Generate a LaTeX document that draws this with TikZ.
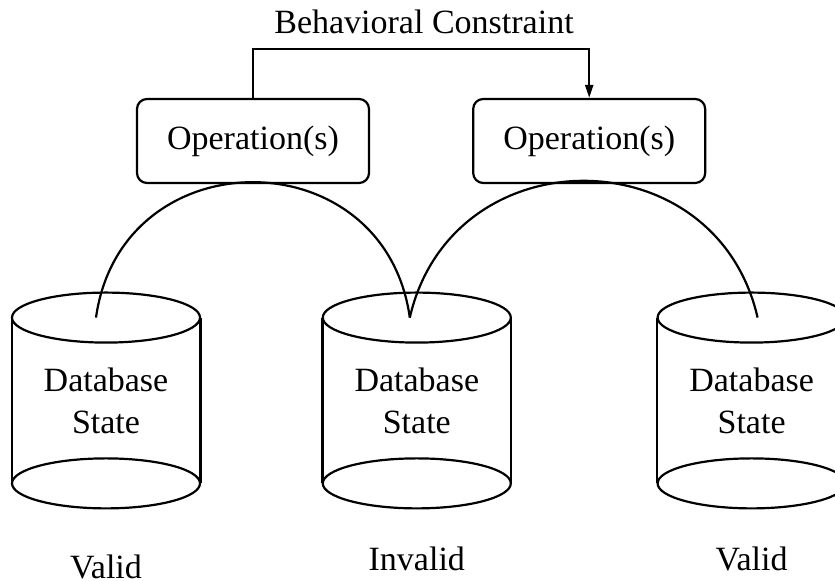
\documentclass[tikz,border=0pt]{standalone}
\usepackage{fontspec}
\setmainfont{Liberation Serif}
\usetikzlibrary{positioning, arrows.meta, calc}

\begin{document}
\begin{tikzpicture}[
  x=0.5pt, y=0.5pt,
  every node/.style={font=\fontsize{17}{21}\selectfont},
  op/.style={draw, line width=1.1pt, rounded corners=5pt, minimum width=116pt,
             minimum height=42pt},
  db/.style={inner sep=0pt, minimum width=94pt, minimum height=82.5pt, align=center},
  state/.style={inner sep=0pt},
  wire/.style={line width=1.1pt},
  arr/.style={-{Triangle[length=6.5pt, width=4pt]}, line width=1.1pt}
]
\useasboundingbox (0,0) rectangle (835,581);

% operations
\node[op] (op1) at (253,440) {Operation(s)};
\node[op, right=51pt of op1] (op2) {Operation(s)};
\node[anchor=base] (bc) at (424,547) {Behavioral Constraint};

% database states
\node[db] (db1) at (106,180.5) {Database\\State};
\node[db, right=61pt of db1] (db2) {Database\\State};
\node[db, right=73pt of db2] (db3) {Database\\State};

\node[state, below=35.5pt of db1] (v1) {Valid};
\node[state, below=31.5pt of db2] (iv) {Invalid};
\node[state, below=31.5pt of db3] (v3) {Valid};

\foreach \d in {db1,db2,db3} {
  \draw[wire] (\d.north west) -- (\d.south west);
  \draw[wire] (\d.north east) -- (\d.south east);
  \draw[wire] (\d.north) ellipse[x radius=94, y radius=25];
  \draw[wire] (\d.south) ellipse[x radius=94, y radius=25];
}

% constraint
\draw[arr] (op1.north) -- ++(0,49) -| (op2.north);

% transitions
\coordinate (t1) at ($(db1.north)+(-10,0)$);
\coordinate (t2) at ($(db2.north)+(-7,0)$);
\coordinate (t3) at ($(db3.north)+(6,0)$);
\draw[wire] (t1) to[out=82, in=98, looseness=1.49] (t2);
\draw[wire] (t2) to[out=77, in=103, looseness=1.38] (t3);
\end{tikzpicture}
\end{document}
